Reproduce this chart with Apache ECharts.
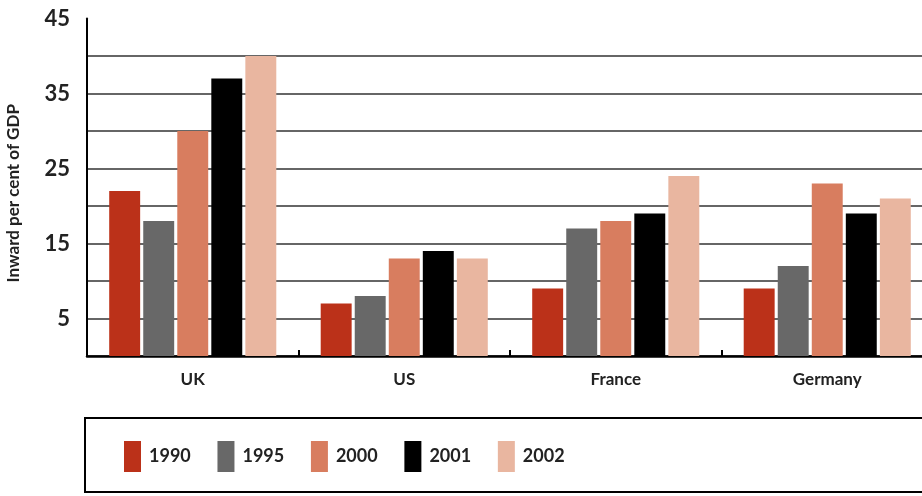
<!DOCTYPE html>
<html>
<head>
<meta charset="utf-8">
<script src="https://cdn.jsdelivr.net/npm/echarts@6/dist/echarts.min.js"></script>
<style>
  html, body { margin: 0; padding: 0; background: #fff; }
  #chart { width: 922px; height: 496px; }
</style>
</head>
<body>
<div id="chart"></div>
<script>
var countries = ['UK', 'US', 'France', 'Germany'];
var years = ['1990', '1995', '2000', '2001', '2002'];
var values1990 = [22, 7, 9, 9];
var values1995 = [18, 8, 17, 12];
var values2000 = [30, 13, 18, 23];
var values2001 = [37, 14, 19, 19];
var values2002 = [40, 13, 24, 21];
var yearColors = ['#BB3119', '#686868', '#D87D5F', '#000000', '#E9B6A0'];

var allValues = [values1990, values1995, values2000, values2001, values2002];
var font = 'Lato';

var series = years.map(function (y, i) {
  return {
    name: y,
    type: 'bar',
    data: allValues[i],
    barGap: '10%',
    barCategoryGap: '21%',
    itemStyle: { color: yearColors[i] }
  };
});

var chart = echarts.init(document.getElementById('chart'));
chart.setOption({
  animation: false,
  grid: { left: 87, top: 18.5, bottom: 140, width: 846, outerBoundsMode: 'none', containLabel: false },
  graphic: [{
    type: 'rect',
    shape: { x: 85, y: 418, width: 850, height: 74 },
    style: { fill: '#fff', stroke: '#000', lineWidth: 2 }
  }],
  legend: {
    data: years,
    left: 119,
    top: 436,
    itemWidth: 17,
    itemHeight: 31,
    itemGap: 26.7,
    icon: 'rect',
    textStyle: { fontFamily: font, fontWeight: 'bold', fontSize: 18, color: '#222', padding: [0, 0, 0, 3] }
  },
  xAxis: {
    type: 'category',
    data: countries,
    axisLine: { lineStyle: { color: '#000', width: 2.5 } },
    axisTick: { show: true, inside: true, length: 6, lineStyle: { color: '#000', width: 2 } },
    axisLabel: { fontFamily: font, fontWeight: 'bold', fontSize: 17, color: '#222', margin: 15 }
  },
  yAxis: {
    type: 'value',
    min: 0,
    max: 45,
    interval: 5,
    name: 'Inward per cent of GDP',
    nameLocation: 'middle',
    nameGap: 65,
    nameTextStyle: { fontFamily: font, fontWeight: 'bold', fontSize: 17, color: '#222', padding: [0, 12, 0, 0] },
    axisLine: { show: true, lineStyle: { color: '#000', width: 2 } },
    axisTick: { show: false },
    axisLabel: {
      fontFamily: font, fontWeight: 'bold', fontSize: 22, color: '#222', margin: 17,
      formatter: function (v) { return (v / 5) % 2 === 1 ? String(v) : ''; }
    },
    splitLine: { show: true, showMaxLine: false, lineStyle: { color: '#333', width: 1.5 } }
  },
  series: series
});
</script>
</body>
</html>
